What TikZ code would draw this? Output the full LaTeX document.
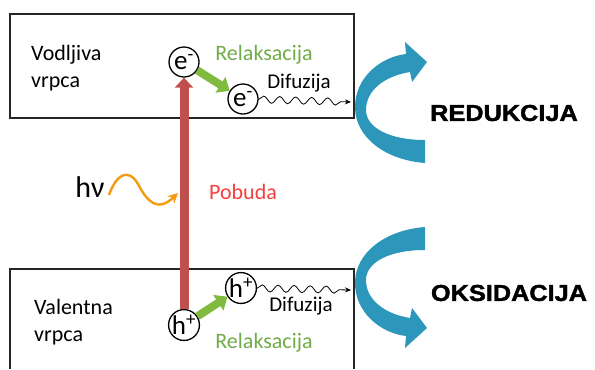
\documentclass[tikz,border=0pt]{standalone}
\usepackage{fontspec}
\setmainfont{Carlito}
\newfontfamily\headfont{Liberation Sans Bold}[FakeBold=1.6]
\usetikzlibrary{arrows.meta,decorations.pathmorphing}
\definecolor{bandblue}{RGB}{44,150,187}
\definecolor{relgreen}{RGB}{112,173,71}
\definecolor{arrgreen}{RGB}{128,186,62}
\definecolor{pobred}{RGB}{245,62,62}
\definecolor{exred}{RGB}{192,80,77}
\definecolor{hvorange}{RGB}{243,156,18}
\begin{document}
\begin{tikzpicture}[x=1bp,y=-1bp,
  lbl/.style={font=\fontsize{22bp}{27bp}\selectfont, inner sep=0pt, align=left},
  particle/.style={circle, draw, line width=1.3bp, minimum size=30bp, inner sep=0pt, font=\fontsize{27bp}{27bp}\selectfont},
  band/.style={draw=black!85, line width=1.6bp},
  relax/.style={draw=arrgreen, line width=8bp, -{Triangle[width=18bp,length=11bp]}},
  wave/.style={decorate, decoration={snake, amplitude=3.5bp, segment length=16bp, post length=5bp}, line width=0.8bp, -{Stealth[length=6bp,width=5bp]}},
  head/.style={font=\headfont\fontsize{23bp}{23bp}\selectfont, inner sep=0pt}
]
\useasboundingbox (0,0) rectangle (595,369);

% conduction band
\node[band, minimum width=344bp, minimum height=104bp, inner sep=0pt] (cb) at (182,66) {};
% valence band (open at the bottom)
\coordinate (vbl) at (10,369);
\coordinate (vbr) at (354,369);
\draw[band] (vbl) -- (10,269) -- (354,269) -- (vbr);

\node[lbl, anchor=west] (vod) at (31,68) {Vodljiva\\vrpca};
\node[lbl, anchor=west] (val) at (34,322) {Valentna\\vrpca};

% particles
\node[particle] (e1) at (184,62) {e\textsuperscript{-}};
\node[particle] (e2) at (243,99) {e\textsuperscript{-}};
\node[particle] (h1) at (184,325) {h\textsuperscript{+}};
\node[particle] (h2) at (241,288) {h\textsuperscript{+}};

% excitation
\draw[exred, line width=9bp, -{Triangle[width=18bp,length=10bp]}] (h1) -- (e1);
\coordinate (hit) at (178,193);
\node[lbl, text=pobred] (pob) at (243,192) {Pobuda};
\node[font=\fontsize{30bp}{30bp}\selectfont, inner sep=0pt] (hv) at (90,187) {hν};
\draw[hvorange, line width=2.4bp, -{Stealth[length=10bp,width=10bp]}]
  (109,195) .. controls (116,175) and (128,167) .. (138,184)
  .. controls (148,203) and (158,212) .. (hit);

% relaxation
\draw[relax] (e1) -- (e2);
\draw[relax] (h1) -- (h2);
\node[lbl, text=relgreen] (rel1) at (264,55) {Relaksacija};
\node[lbl, text=relgreen] (rel2) at (264,343) {Relaksacija};

% diffusion
\coordinate (d1) at (351,102);
\coordinate (d2) at (351,290);
\draw[wave] (e2) -- (d1);
\draw[wave] (h2) -- (d2);
\node[lbl, font=\fontsize{21bp}{21bp}\selectfont] (dif1) at (299,83) {Difuzija};
\node[lbl, font=\fontsize{21bp}{21bp}\selectfont] (dif2) at (301,306) {Difuzija};

% curved arrows
\fill[bandblue]
  (425,163) .. controls (385,160) and (355,137) .. (355,107)
  .. controls (355,78) and (380,57) .. (406,54)
  -- (405,42) -- (427,62) -- (412,82) -- (410,72)
  .. controls (385,76) and (366,90) .. (366,110)
  .. controls (366,128) and (390,140) .. (425,140) -- cycle;
\fill[bandblue]
  (425,227) .. controls (385,230) and (355,253) .. (355,283)
  .. controls (355,312) and (380,333) .. (406,336)
  -- (405,348) -- (427,328) -- (412,308) -- (410,318)
  .. controls (385,314) and (366,300) .. (366,280)
  .. controls (366,262) and (390,250) .. (425,250) -- cycle;

\node[head] (red) at (504,113) {\scalebox{1.1}[1]{REDUKCIJA}};
\node[head] (oks) at (509,293) {\scalebox{1.1}[1]{OKSIDACIJA}};
\end{tikzpicture}
\end{document}
